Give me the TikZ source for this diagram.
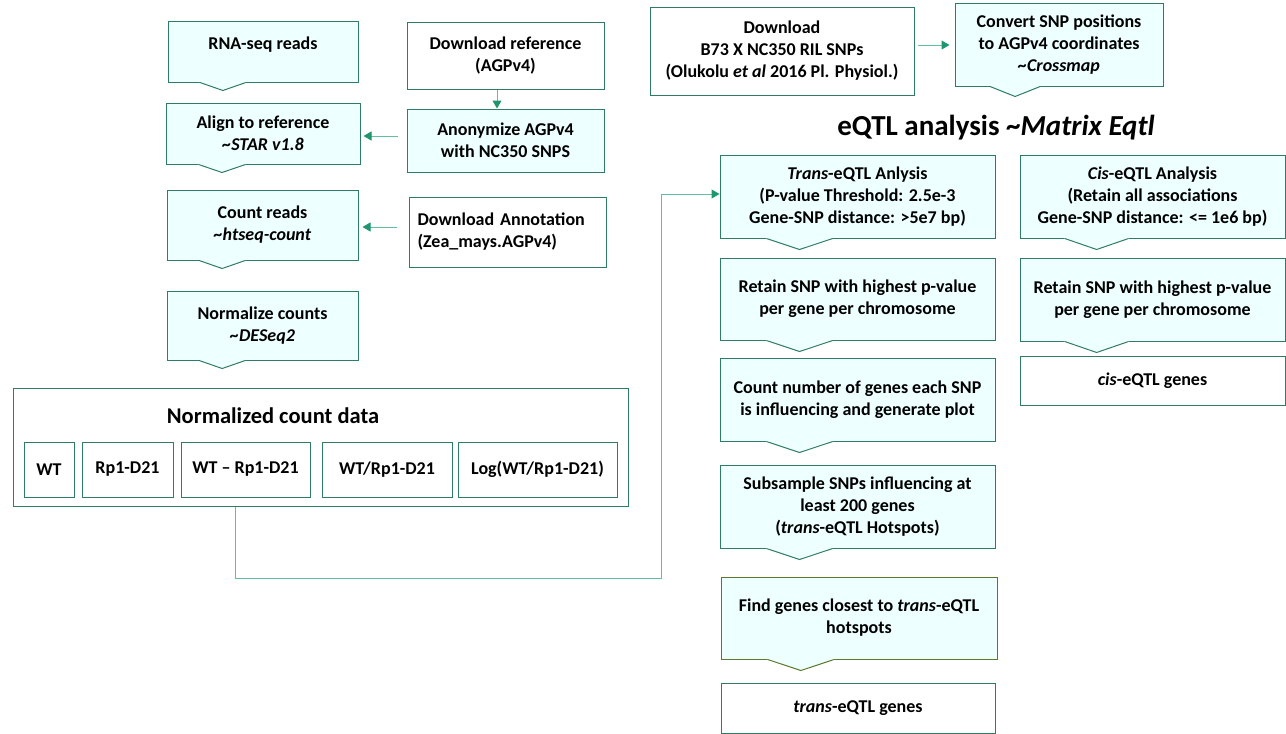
\documentclass[tikz,border=0pt]{standalone}
\usepackage{fontspec}
\setmainfont{Carlito}
\usetikzlibrary{arrows.meta, positioning, calc}
\definecolor{flowGreen}{RGB}{46, 125, 98}
\definecolor{flowFill}{RGB}{238, 255, 255}
\definecolor{flowLine}{RGB}{95, 192, 158}
\definecolor{flowTip}{RGB}{30, 150, 112}
\definecolor{flowOlive}{RGB}{92, 120, 42}

% notch under a step box: node, depth, border colour
\newcommand{\notch}[3]{%
  \draw[flowFill, line width=1.4pt] ($(#1.south west)!0.17!(#1.south east)$) -- ($(#1.south west)!0.41!(#1.south east)$);
  \filldraw[fill=flowFill, draw=#3, line width=1pt] ($(#1.south west)!0.17!(#1.south east)$)
    -- ($(#1.south west)!0.29!(#1.south east)+(0,#2)$) -- ($(#1.south west)!0.41!(#1.south east)$);
}

\begin{document}
\begin{tikzpicture}[x=1pt, y=-1pt,
    box/.style={rectangle, draw=flowGreen, line width=1pt, fill=white, inner sep=0pt,
                align=center, font=\bfseries\fontsize{18}{22}\selectfont},
    stepbox/.style={box, fill=flowFill},
    arrow/.style={-{Triangle[length=8pt, width=9pt, color=flowTip]}, line width=1pt, flowLine}
  ]
    \useasboundingbox (0,0) rectangle (1286,734);

    % Left column: reads to counts
    \node[stepbox, minimum width=190, minimum height=61, text depth=17pt] (reads) at (263,51.5) {RNA-seq reads};
    \node[stepbox, minimum width=194, minimum height=61] (align) at (263,133.5) {Align to reference\\\textit{\textasciitilde STAR v1.8}};
    \node[stepbox, minimum width=191, minimum height=70] (count) at (262.5,225) {Count reads\\\textit{\textasciitilde htseq-count}};
    \node[stepbox, minimum width=191, minimum height=69] (normalize) at (262.5,325.5) {Normalize counts\\\textit{\textasciitilde DESeq2}};
    \notch{reads}{8}{flowGreen}
    \notch{align}{8}{flowGreen}
    \notch{count}{8}{flowGreen}
    \notch{normalize}{8}{flowGreen}

    % Reference and annotation
    \node[box, minimum width=197, minimum height=67] (reference) at (505.5,55.5) {Download reference\\(AGPv4)};
    \node[stepbox, minimum width=197, minimum height=63] (anonymize) at (505.5,140.5) {Anonymize AGPv4\\with NC350 SNPS};
    \node[box, minimum width=197, minimum height=70, text width=180, align=left] (annotation) at (507.5,232) {Download Annotation\\(Zea\_mays.AGPv4)};

    % Normalized count data
    \node[box, minimum width=615, minimum height=118] (counts) at (320.5,447) {};
    \node[font=\bfseries\fontsize{22.5}{26}\selectfont] (countsTitle) at (273,416) {Normalized count data};
    \node[box, minimum width=50, minimum height=55] (wt) at (49,469.5) {WT};
    \node[box, minimum width=91, minimum height=55] (rp) at (127.5,469.5) {Rp1-D21};
    \node[box, minimum width=129, minimum height=55] (diff) at (245.5,469.5) {WT -- Rp1-D21};
    \node[box, minimum width=130, minimum height=55] (ratio) at (387,469.5) {WT/Rp1-D21};
    \node[box, minimum width=159, minimum height=55] (logratio) at (537.5,469.5) {Log(WT/Rp1-D21)};

    % SNP download
    \node[box, minimum width=264, minimum height=88] (snps) at (782,51) {Download\\B73 X NC350 RIL SNPs\\(Olukolu \textit{et al} 2016 Pl. Physiol.)};
    \node[stepbox, minimum width=208, minimum height=83] (convert) at (1059,44.5) {Convert SNP positions\\to AGPv4 coordinates\\\textit{\textasciitilde Crossmap}};
    \notch{convert}{10}{flowGreen}

    \node[font=\bfseries\fontsize{29}{34}\selectfont] (eqtl) at (996,128) {eQTL analysis \textasciitilde\textit{Matrix Eqtl}};

    % trans-eQTL branch
    \node[stepbox, minimum width=275, minimum height=83] (trans) at (857.5,196.5) {\textit{Trans}-eQTL Anlysis\\(P-value Threshold: 2.5e-3\\Gene-SNP distance: >5e7 bp)};
    \node[stepbox, minimum width=275, minimum height=82] (transRetain) at (857.5,299) {Retain SNP with highest p-value\\per gene per chromosome};
    \node[stepbox, minimum width=275, minimum height=83] (transCount) at (857.5,399.5) {Count number of genes each SNP\\is influencing and generate plot};
    \node[stepbox, minimum width=275, minimum height=83] (subsample) at (857.5,506.5) {Subsample SNPs influencing at\\least 200 genes\\(\textit{trans}-eQTL Hotspots)};
    \node[stepbox, draw=flowOlive, minimum width=276, minimum height=82] (closest) at (859,618) {Find genes closest to \textit{trans}-eQTL\\hotspots};
    \node[box, minimum width=274, minimum height=50] (transGenes) at (858,708) {\textit{trans}-eQTL genes};
    \notch{trans}{11}{flowGreen}
    \notch{transRetain}{11}{flowGreen}
    \notch{transCount}{11}{flowGreen}
    \notch{subsample}{11}{flowGreen}
    \notch{closest}{11}{flowOlive}

    % cis-eQTL branch
    \node[stepbox, minimum width=265, minimum height=83] (cis) at (1152.5,196.5) {\textit{Cis}-eQTL Analysis\\(Retain all associations\\Gene-SNP distance: <= 1e6 bp)};
    \node[stepbox, minimum width=265, minimum height=83] (cisRetain) at (1152.5,299.5) {Retain SNP with highest p-value\\per gene per chromosome};
    \node[box, minimum width=265, minimum height=49] (cisGenes) at (1152.5,380.5) {\textit{cis}-eQTL genes};
    \notch{cis}{11}{flowGreen}
    \notch{cisRetain}{11}{flowGreen}

    % Arrows
    \draw[arrow] ([xshift=-8.5pt]reference.south) -- ([xshift=-8.5pt]anonymize.north);
    \draw[arrow, shorten <=9pt, shorten >=3pt] ([yshift=4.5pt]anonymize.west) -- ([yshift=4.5pt]anonymize.west -| align.east);
    \draw[arrow, shorten <=12pt, shorten >=4pt] ([yshift=5pt]annotation.west) -- ([yshift=5pt]annotation.west -| count.east);
    \draw[arrow, shorten <=3pt, shorten >=5pt] ([yshift=6pt]snps.east) -- ([yshift=6pt]snps.east -| convert.west);
    \coordinate (bend) at (661,578);
    \draw[arrow] ([xshift=-85.5pt]counts.south) |- (bend) |- ([yshift=2.5pt]trans.west);
\end{tikzpicture}
\end{document}
